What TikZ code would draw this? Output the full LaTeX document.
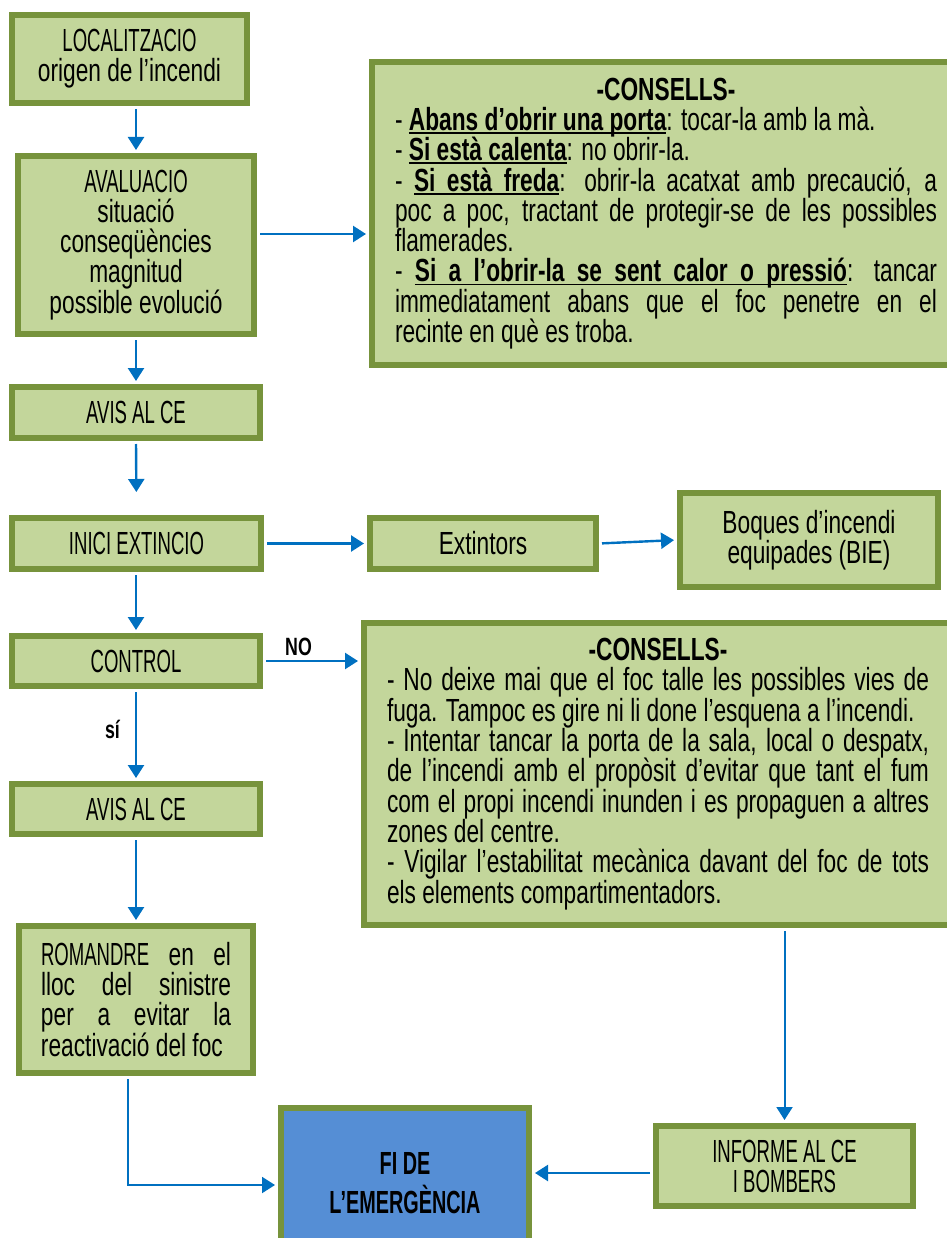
\documentclass[tikz,border=0pt]{standalone}
\usepackage{fontspec}
\setmainfont{Liberation Sans}[FakeStretch=0.71]
\newfontfamily\capsf{Liberation Sans}[FakeStretch=0.58]
\newfontfamily\capsfb{Liberation Sans}[FakeStretch=0.62]
\usetikzlibrary{arrows.meta,calc}
\definecolor{boxfill}{HTML}{C3D69B}
\definecolor{boxline}{HTML}{77933C}
\definecolor{arr}{HTML}{0070C0}
\definecolor{fiblue}{HTML}{558ED5}
\newsavebox\ulbox
\newcommand\uw[1]{\sbox\ulbox{#1}\leavevmode\rlap{\vrule height -1.7pt depth 3.5pt width \wd\ulbox}\usebox\ulbox}
\newcommand\us{\leaders\vrule height -1.7pt depth 3.5pt\hskip\fontdimen2\font plus \fontdimen3\font minus \fontdimen4\font\relax}
\tikzset{
  box/.style={draw=boxline, line width=6pt, fill=boxfill, inner sep=0pt,
    align=center, font=\fontsize{32}{30}\selectfont},
  cbox/.style={text width=542pt, inner xsep=23pt, inner ysep=0pt, align=justify,
    anchor=west, font=\fontsize{32}{30.3}\selectfont},
  arrow/.style={draw=arr, line width=2.4pt, shorten <=3pt, shorten >=3pt,
    -{Triangle[length=13pt,width=16pt]}},
  lbl/.style={inner sep=0pt, font=\bfseries\fontsize{25}{25}\selectfont}
}
\begin{document}
\begin{tikzpicture}[x=1pt,y=-1pt]
\useasboundingbox (0,0) rectangle (946,1238);
% left column
\node[box, minimum width=235pt, minimum height=88pt] (loc) at (129.5,59)
  {{\capsf LOCALITZACIO}\\origen de l’incendi};
\node[box, minimum width=236pt, minimum height=178pt] (aval) at (136,245)
  {{\capsf AVALUACIO}\\situació\\conseqüències\\magnitud\\possible evolució};
\node[box, minimum width=248pt, minimum height=51pt] (avis1) at (136,412.5)
  {{\capsf AVIS AL CE}};
\node[box, minimum width=249pt, minimum height=51pt] (inici) at (136.5,543.5)
  {{\capsf INICI EXTINCIO}};
\node[box, minimum width=226pt, minimum height=51pt] (ext) at (483,543.5)
  {Extintors};
\node[box, minimum width=258pt, minimum height=94pt] (boq) at (809,540)
  {Boques d’incendi\\equipades (BIE)};
\node[box, minimum width=248pt, minimum height=50pt] (control) at (136,661)
  {{\capsf CONTROL}};
\node[box, minimum width=248pt, minimum height=50pt] (avis2) at (136,809)
  {{\capsf AVIS AL CE}};
\node[box, minimum width=234pt, minimum height=147pt, text width=190pt, align=justify] (rom) at (136,999.5)
  {\parindent0pt{\capsf ROMANDRE} en el\linebreak lloc del sinistre\linebreak per a evitar la\linebreak reactivació del foc};
\node[box, fill=fiblue, minimum width=248pt, minimum height=150pt,
  font=\capsfb\bfseries\fontsize{32}{39}\selectfont] (fi) at (405,1183)
  {FI DE\\L’EMERGÈNCIA};
\node[box, minimum width=257pt, minimum height=80pt,
  font=\capsf\fontsize{32}{30}\selectfont] (inf) at (784.5,1166)
  {INFORME AL CE\\I BOMBERS};
% advice boxes
\node[box, cbox, minimum height=303pt] (cons1) at (369,213.5)
  {\parindent0pt
   \centerline{\bfseries -CONSELLS-}
   - \textbf{\uw{Abans}\us\uw{d’obrir}\us\uw{una}\us\uw{porta}}: tocar-la amb la mà.\par
   - \textbf{\uw{Si}\us\uw{està}\us\uw{calenta}}: no obrir-la.\par
   - \textbf{\uw{Si}\us\uw{està}\us\uw{freda}}: obrir-la acatxat amb precaució, a\linebreak
   poc a poc, tractant de protegir-se de les possibles\linebreak
   flamerades.\par
   - \textbf{\uw{Si}\us\uw{a}\us\uw{l’obrir-la}\us\uw{se}\us\uw{sent}\us\uw{calor}\us\uw{o}\us\uw{pressió}}: tancar\linebreak
   immediatament abans que el foc penetre en el\linebreak
   recinte en què es troba.};
\node[box, cbox, minimum height=302pt] (cons2) at (361,774)
  {\parindent0pt
   \centerline{\bfseries -CONSELLS-}
   - No deixe mai que el foc talle les possibles vies de\linebreak
   fuga. Tampoc es gire ni li done l’esquena a l’incendi.\par
   - Intentar tancar la porta de la sala, local o despatx,\linebreak
   de l’incendi amb el propòsit d’evitar que tant el fum\linebreak
   com el propi incendi inunden i es propaguen a altres\linebreak
   zones del centre.\par
   - Vigilar l’estabilitat mecànica davant del foc de tots\linebreak
   els elements compartimentadors.};
% labels
\node[lbl] (no) at (298.5,647) {NO};
\node[lbl] (si) at (112.5,729) {sí};
% connectors
\draw[arrow] (loc.south -| aval.north) -- (aval.north);
\draw[arrow] (aval.south) -- (avis1.north);
\draw[arrow, shorten >=23pt] (avis1.south) -- (inici.north);
\draw[arrow] ([yshift=11pt]aval.east) -- ([yshift=11pt]aval.east -| cons1.west);
\draw[arrow] (inici.east) -- (ext.west);
\draw[arrow] (ext.east) -- (boq.west);
\draw[arrow] (inici.south -| control.north) -- (control.north);
\draw[arrow] (control.east) -- (control.east -| cons2.west);
\draw[arrow] (control.south) -- (avis2.north);
\draw[arrow] (avis2.south) -- (rom.north);
\draw[arrow, line width=2pt] ([xshift=-8pt]rom.south) |- ([yshift=-2pt]fi.west);
\draw[arrow, line width=2pt] (cons2.south -| inf.north) -- (inf.north);
\draw[arrow] ([yshift=-7pt]inf.west) -- ([yshift=-7pt]inf.west -| fi.east);
\end{tikzpicture}
\end{document}
